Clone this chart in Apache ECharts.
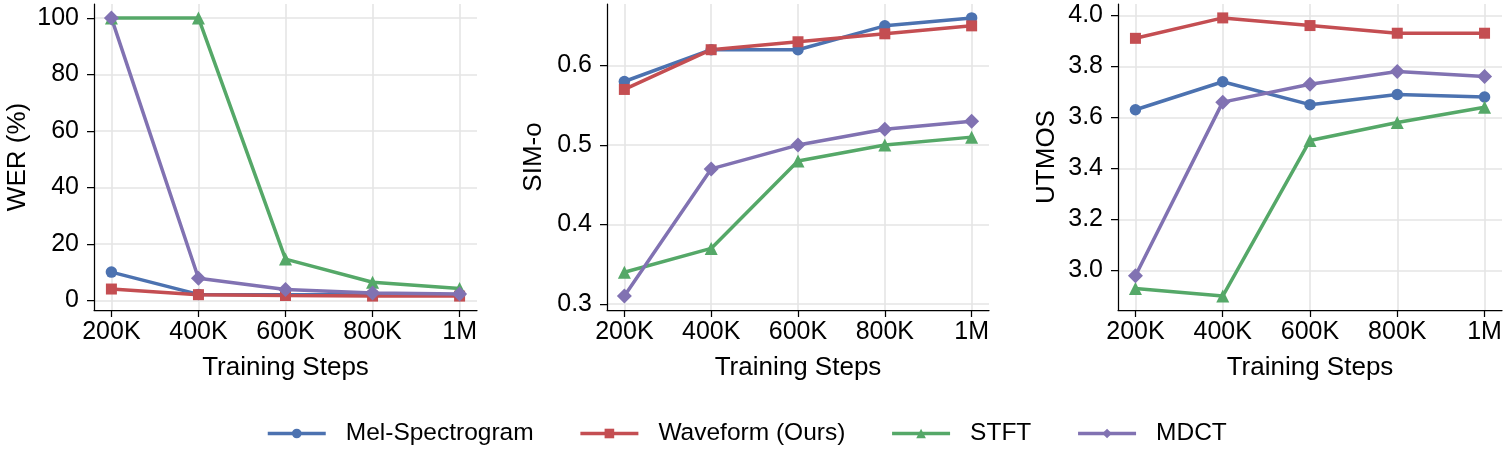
<!DOCTYPE html>
<html>
<head>
<meta charset="utf-8">
<title>Training steps comparison</title>
<script src="https://cdn.jsdelivr.net/npm/echarts@6/dist/echarts.min.js"></script>
<style>
  html, body { margin: 0; padding: 0; background: #fff; }
  #chart { width: 1506px; height: 460px; }
</style>
</head>
<body>
<div id="chart"></div>
<script>
const steps = ['200K', '400K', '600K', '800K', '1M']
const seriesNames = ['Mel-Spectrogram', 'Waveform (Ours)', 'STFT', 'MDCT']

// WER (%)
const werMel = [10, 2.1, 2.0, 2.0, 2.0]
const werWave = [4.0, 2.0, 1.7, 1.5, 1.5]
const werStft = [100, 100, 14.6, 6.4, 4.2]
const werMdct = [100, 7.8, 3.8, 2.6, 2.2]
const werTicks = [0, 20, 40, 60, 80, 100]

// SIM-o
const simMel = [0.58, 0.62, 0.62, 0.65, 0.66]
const simWave = [0.57, 0.62, 0.63, 0.64, 0.65]
const simStft = [0.34, 0.37, 0.48, 0.50, 0.51]
const simMdct = [0.31, 0.47, 0.50, 0.52, 0.53]
const simTicks = [0.3, 0.4, 0.5, 0.6]

// UTMOS
const utmosMel = [3.63, 3.74, 3.65, 3.69, 3.68]
const utmosWave = [3.91, 3.99, 3.96, 3.93, 3.93]
const utmosStft = [2.93, 2.90, 3.51, 3.58, 3.64]
const utmosMdct = [2.98, 3.66, 3.73, 3.78, 3.76]
const utmosTicks = [3.0, 3.2, 3.4, 3.6, 3.8, 4.0]

const colors = ['#4C72B0', '#C44E52', '#55A868', '#8172B2']
const symbols = ['circle', 'rect', 'triangle', 'diamond']
const symbolSizes = [11.5, 11, 13, 15]
const fontFamily = "'Liberation Sans', Arial, sans-serif"

const panels = [
  { name: 'WER (%)', groups: [werMel, werWave, werStft, werMdct], ticks: werTicks, digits: 0, nameGap: 63 },
  { name: 'SIM-o', groups: [simMel, simWave, simStft, simMdct], ticks: simTicks, digits: 1, nameGap: 60 },
  { name: 'UTMOS', groups: [utmosMel, utmosWave, utmosStft, utmosMdct], ticks: utmosTicks, digits: 1, nameGap: 58 }
]

const gridBoxes = [
  { left: 94, right: 1029 },
  { left: 607, right: 517 },
  { left: 1118, right: 4 }
]

const chart = echarts.init(document.getElementById('chart'))

const grids = []
const xAxes = []
const yAxes = []
const series = []
const stepIdx = steps.map((s, i) => i)

panels.forEach((p, k) => {
  grids.push({ left: gridBoxes[k].left, right: gridBoxes[k].right, top: 4, bottom: 150 })

  // matplotlib-like 5% margins
  const all = [].concat(...p.groups)
  const lo = Math.min(...all)
  const hi = Math.max(...all)
  const pad = (hi - lo) * 0.05
  const xpad = (steps.length - 1) * 0.05

  xAxes.push({
    type: 'value',
    gridIndex: k,
    min: -xpad,
    max: steps.length - 1 + xpad,
    name: 'Training Steps',
    nameLocation: 'middle',
    nameGap: 45,
    nameTextStyle: { color: '#000', fontSize: 26, fontFamily: fontFamily },
    axisLine: { onZero: false, lineStyle: { color: '#000', width: 1.25 } },
    axisTick: { customValues: stepIdx, length: 7, lineStyle: { color: '#000', width: 1.25 } },
    axisLabel: {
      customValues: stepIdx,
      margin: 10,
      color: '#000',
      fontSize: 25,
      fontFamily: fontFamily,
      formatter: v => steps[Math.round(v)]
    },
    splitLine: { show: true, lineStyle: { color: '#e5e5e5', width: 1.6 } }
  })

  yAxes.push({
    type: 'value',
    gridIndex: k,
    min: lo - pad,
    max: hi + pad,
    name: p.name,
    nameLocation: 'middle',
    nameGap: p.nameGap,
    nameTextStyle: { color: '#000', fontSize: 26, fontFamily: fontFamily },
    axisLine: { show: true, onZero: false, lineStyle: { color: '#000', width: 1.25 } },
    axisTick: { show: true, customValues: p.ticks, length: 7, lineStyle: { color: '#000', width: 1.25 } },
    axisLabel: {
      customValues: p.ticks,
      margin: 15,
      color: '#000',
      fontSize: 25,
      fontFamily: fontFamily,
      formatter: v => v.toFixed(p.digits)
    },
    splitLine: { show: true, lineStyle: { color: '#e5e5e5', width: 1.6 } }
  })

  p.groups.forEach((vals, j) => {
    series.push({
      name: seriesNames[j],
      type: 'line',
      xAxisIndex: k,
      yAxisIndex: k,
      data: vals.map((v, i) => [i, v]),
      symbol: symbols[j],
      symbolSize: symbolSizes[j],
      showAllSymbol: true,
      lineStyle: { color: colors[j], width: 3.5 },
      itemStyle: { color: colors[j] },
      animation: false
    })
  })
})

const option = {
  backgroundColor: '#fff',
  animation: false,
  grid: grids,
  xAxis: xAxes,
  yAxis: yAxes,
  legend: {
    data: seriesNames,
    left: 266,
    top: 421,
    padding: 0,
    itemWidth: 58,
    itemHeight: 12,
    itemGap: 45,
    lineStyle: { width: 3.5 },
    textStyle: {
      color: '#000',
      fontSize: 24.5,
      fontFamily: fontFamily,
      padding: [0, 0, 0, 15]
    }
  },
  series: series
}

chart.setOption(option)
</script>
</body>
</html>
